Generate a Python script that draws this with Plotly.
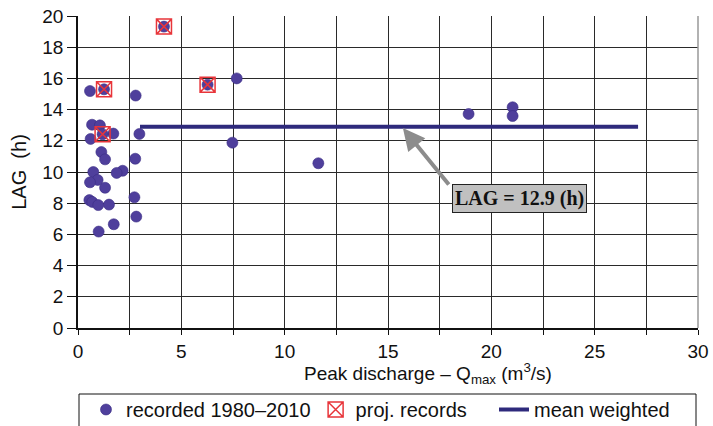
import plotly.graph_objects as go

# ---- data ----
rec_x = [0.58, 1.26, 2.79, 7.68, 4.16, 6.27, 0.68, 1.06, 1.71, 0.61, 1.19, 2.97, 7.47,
         1.13, 1.31, 2.77, 0.74, 2.16, 1.87, 0.95, 0.58, 1.31, 2.73, 0.55, 0.69, 0.98,
         1.50, 2.82, 1.73, 1.00, 11.63, 18.90, 21.03, 21.03]
rec_y = [15.19, 15.30, 14.90, 16.00, 19.32, 15.60, 13.03, 12.99, 12.46, 12.12, 12.42, 12.44, 11.88,
         11.28, 10.81, 10.85, 10.00, 10.08, 9.94, 9.49, 9.34, 8.99, 8.38, 8.20, 8.08, 7.88,
         7.91, 7.14, 6.65, 6.18, 10.56, 13.72, 14.15, 13.59]
proj_x = [4.16, 1.26, 6.27, 1.19]
proj_y = [19.32, 15.30, 15.60, 12.42]
mean_x = [3.0, 27.1]
mean_y = [12.9, 12.9]
mean_label = "LAG = 12.9 (h)"
x_ticks = [0, 2.5, 5, 7.5, 10, 12.5, 15, 17.5, 20, 22.5, 25, 27.5, 30]
x_ticktext = ["0", "", "5", "", "10", "", "15", "", "20", "", "25", "", "30"]
y_ticks = [0, 2, 4, 6, 8, 10, 12, 14, 16, 18, 20]

FONT = "Liberation Sans, Arial, sans-serif"
W, H = 713, 426
L, R, T, B = 78, 15, 16, 98
PW, PH = W - L - R, H - T - B

def px2paper_x(p):
    return (p - L) / PW

def px2paper_y(p):
    return (H - B - p) / PH

fig = go.Figure()
fig.add_trace(go.Scatter(
    x=rec_x, y=rec_y, mode="markers", name="recorded 1980\u20132010",
    marker=dict(symbol="circle", size=11, color="#4f3f9c",
                line=dict(color="#3b2d84", width=0.6)),
))
fig.add_trace(go.Scatter(
    x=proj_x, y=proj_y, mode="markers", name="proj. records\u00a0\u00a0\u00a0\u00a0",
    marker=dict(symbol="square-x-open", size=15, color="#e8353a",
                line=dict(color="#e8353a", width=1.5)),
))
fig.add_trace(go.Scatter(
    x=mean_x, y=mean_y, mode="lines", name="mean weighted",
    line=dict(color="#2e2a7c", width=4),
))

# arrow
fig.add_annotation(
    x=15.72, y=12.82, ax=18.0, ay=9.1, axref="x", ayref="y", xref="x", yref="y",
    text="", showarrow=True, arrowhead=2, arrowsize=1.1, arrowwidth=4,
    arrowcolor="#8c8c8c",
)
# label box
fig.add_annotation(
    x=21.38, y=8.33, xref="x", yref="y", showarrow=False,
    text="<b>" + mean_label + "</b>",
    font=dict(family="Liberation Serif, Times New Roman, serif", size=20, color="#111"),
    bgcolor="#c0c0c0", bordercolor="#222", borderwidth=1, borderpad=2,
    xanchor="center", yanchor="middle",
)
# x axis title
fig.add_annotation(
    x=px2paper_x(428), y=px2paper_y(373), xref="paper", yref="paper", showarrow=False,
    text="Peak discharge \u2013 Q<sub>max</sub> (m<sup>3</sup>/s)",
    font=dict(family=FONT, size=19, color="#111"), xanchor="center", yanchor="middle",
)

# legend frame
fig.add_shape(type="rect", xref="paper", yref="paper",
              x0=px2paper_x(79), x1=px2paper_x(696), y0=px2paper_y(394), y1=px2paper_y(428),
              line=dict(color="#111", width=1), fillcolor="rgba(0,0,0,0)")

fig.update_layout(
    width=W, height=H,
    margin=dict(l=L, r=R, t=T, b=B, autoexpand=False),
    paper_bgcolor="white", plot_bgcolor="white",
    font=dict(family=FONT, size=19, color="#111"),
    showlegend=True,
    legend=dict(orientation="h", x=px2paper_x(86), xanchor="left",
                y=px2paper_y(390), yanchor="top",
                font=dict(family=FONT, size=20, color="#111"),
                bgcolor="rgba(0,0,0,0)", borderwidth=0,
                itemclick=False),
    xaxis=dict(range=[0, 30], tickvals=x_ticks, ticktext=x_ticktext,
               showgrid=True, gridcolor="#2a2a2a", gridwidth=1,
               showline=True, linecolor="#111", linewidth=1.5, mirror=False,
               ticks="outside", ticklen=5, tickcolor="#111",
               tickfont=dict(family=FONT, size=19, color="#111"),
               zeroline=False, fixedrange=True, automargin=False),
    yaxis=dict(range=[0, 20], tickvals=y_ticks,
               showgrid=True, gridcolor="#2a2a2a", gridwidth=1,
               showline=True, linecolor="#111", linewidth=1.5,
               ticks="outside", ticklen=9, tickcolor="#111",
               tickfont=dict(family=FONT, size=19, color="#111"),
               title=dict(text="LAG  (h)", font=dict(family=FONT, size=20, color="#111"), standoff=10),
               zeroline=False, fixedrange=True, automargin=False),
)
# right frame line (gray)
fig.add_shape(type="line", xref="paper", yref="paper", x0=1, x1=1, y0=0, y1=1,
              line=dict(color="#999", width=1.5))

fig.write_html("out.html")
